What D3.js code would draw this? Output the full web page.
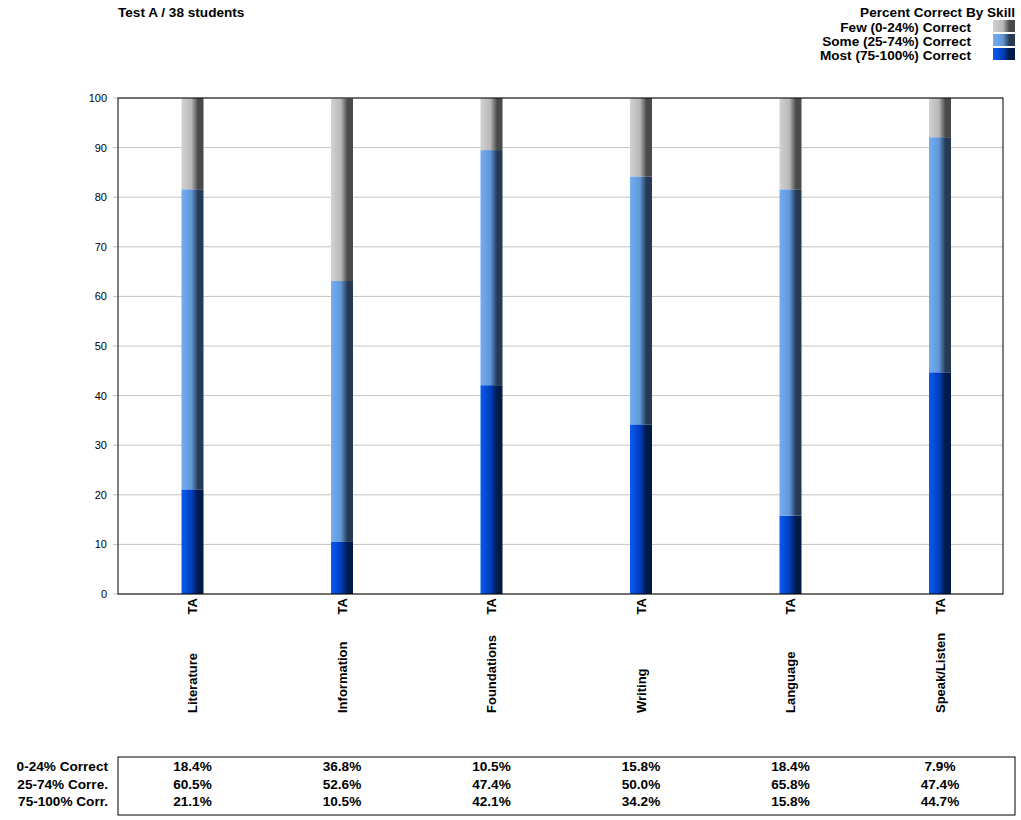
<!DOCTYPE html>
<html><head><meta charset="utf-8">
<script src="https://cdn.jsdelivr.net/npm/d3@7"></script>
<style>body{margin:0;background:#fff;font-family:"Liberation Sans",Arial,sans-serif;}</style>
</head><body><svg id="c" width="1021" height="820"></svg>
<script>
const categories = ["Literature","Information","Foundations","Writing","Language","Speak/Listen"];
const subLabel = "TA";
const few  = [18.4,36.8,10.5,15.8,18.4,7.9];
const some = [60.5,52.6,47.4,50.0,65.8,47.4];
const most = [21.1,10.5,42.1,34.2,15.8,44.7];
const seriesNames = ["Few (0-24%) Correct","Some (25-74%) Correct","Most (75-100%) Correct"];
const rowLabels = ["0-24% Correct","25-74% Corre.","75-100% Corr."];
const yTicks = [0,10,20,30,40,50,60,70,80,90,100];

(function(){
const svg = d3.select("#c");
const font = "'Liberation Sans',Arial,sans-serif";
const fs = 13.6;
const pL=118, pR=1003, pT=98, pB=594;
const x = d3.scaleBand().domain(categories).range([117.75,1014.75]);
const y = d3.scaleLinear().domain([0,100]).range([pB,pT]);
const barW = 22;

const defs = svg.append("defs");
const grads = [
  ["gMost","#0a5cf0","#003ec0","#001a4a"],
  ["gSome","#74adf2","#5f97d8","#263a55"],
  ["gFew","#d2d2d2","#b8b8b8","#4a4a4a"]
];
grads.forEach(([id,a,b,c])=>{
  const g = defs.append("linearGradient").attr("id",id).attr("x1","0").attr("x2","1").attr("y1","0").attr("y2","0");
  g.append("stop").attr("offset","0").attr("stop-color",a);
  g.append("stop").attr("offset","0.45").attr("stop-color",b);
  g.append("stop").attr("offset","0.75").attr("stop-color",c);
  g.append("stop").attr("offset","1").attr("stop-color",c);
});

svg.append("g").selectAll("line").data(yTicks).join("line")
  .attr("x1",pL-5).attr("x2",pR).attr("y1",d=>y(d)).attr("y2",d=>y(d))
  .attr("stroke","#c4c4c4").attr("stroke-width",1);
svg.append("g").selectAll("text").data(yTicks).join("text")
  .attr("x",107).attr("y",d=>y(d)+4).attr("text-anchor","end")
  .attr("font-family",font).attr("font-size",11).attr("fill","#000").text(d=>d);

const data = categories.map((c,i)=>({c, most:most[i], some:some[i], few:few[i]}));
const stack = d3.stack().keys(["most","some","few"])(data);
const gradFor = {most:"url(#gMost)",some:"url(#gSome)",few:"url(#gFew)"};
stack.forEach(s=>{
  svg.append("g").selectAll("rect").data(s).join("rect")
    .attr("x",d=>x(d.data.c)+x.bandwidth()/2-barW/2)
    .attr("width",barW)
    .attr("y",d=>y(Math.min(d[1],100)))
    .attr("height",d=>y(d[0])-y(Math.min(d[1],100)))
    .attr("fill",gradFor[s.key]);
});

svg.append("rect").attr("x",pL).attr("y",pT).attr("width",pR-pL).attr("height",pB-pT)
  .attr("fill","none").attr("stroke","#000").attr("stroke-width",1);

categories.forEach(c=>{
  const cx = x(c)+x.bandwidth()/2;
  svg.append("text").attr("transform",`translate(${cx+4.5},598) rotate(-90)`)
    .attr("text-anchor","end").attr("font-family",font).attr("font-size",13).attr("font-weight","bold").text(subLabel);
  svg.append("text").attr("transform",`translate(${cx+4.5},713) rotate(-90)`)
    .attr("text-anchor","start").attr("font-family",font).attr("font-size",13).attr("font-weight","bold").text(c);
});

svg.append("text").attr("x",118).attr("y",17).attr("font-family",font).attr("font-size",fs).attr("font-weight","bold").text("Test A / 38 students");

svg.append("text").attr("x",1015).attr("y",17).attr("text-anchor","end").attr("font-family",font).attr("font-size",fs).attr("font-weight","bold").text("Percent Correct By Skill");
const legGrads = ["url(#gFew)","url(#gSome)","url(#gMost)"];
seriesNames.forEach((n,i)=>{
  svg.append("text").attr("x",971).attr("y",32+i*14).attr("text-anchor","end").attr("font-family",font).attr("font-size",fs).attr("font-weight","bold").text(n);
  svg.append("rect").attr("x",993).attr("y",20+i*14).attr("width",22).attr("height",12).attr("fill",legGrads[i]);
});

svg.append("rect").attr("x",118).attr("y",757).attr("width",897).attr("height",58).attr("fill","none").attr("stroke","#000").attr("stroke-width",1);
const rows = [few,some,most];
rows.forEach((r,ri)=>{
  const ty = 771+ri*17.5;
  svg.append("text").attr("x",108).attr("y",ty).attr("text-anchor","end").attr("font-family",font).attr("font-size",fs).attr("font-weight","bold").text(rowLabels[ri]);
  r.forEach((v,ci)=>{
    svg.append("text").attr("x",x(categories[ci])+x.bandwidth()/2).attr("y",ty).attr("text-anchor","middle")
      .attr("font-family",font).attr("font-size",fs).attr("font-weight","bold").text(d3.format(".1f")(v)+"%");
  });
});
})();
</script></body></html>
